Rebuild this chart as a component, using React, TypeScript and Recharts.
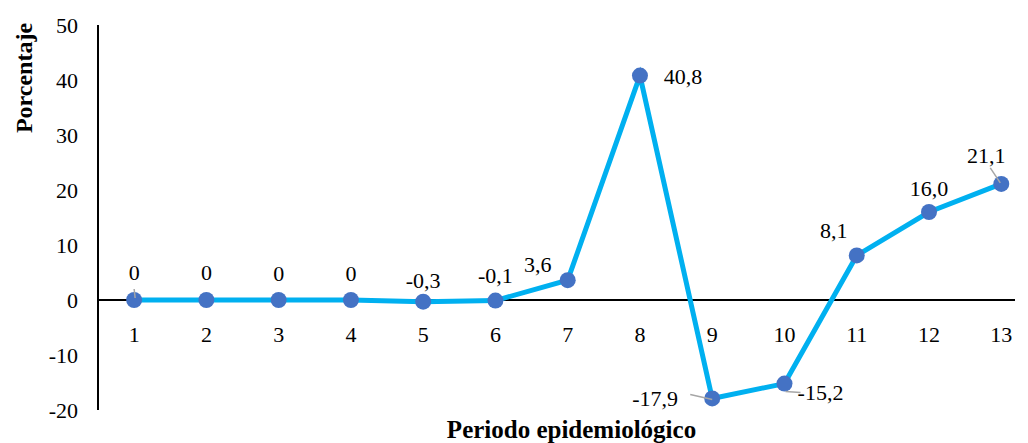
import React from 'react';
import { LineChart, Line, XAxis, YAxis, ReferenceLine, LabelList } from 'recharts';

const periods = [1, 2, 3, 4, 5, 6, 7, 8, 9, 10, 11, 12, 13];
const percentages = [0, 0, 0, 0, -0.3, -0.1, 3.6, 40.8, -17.9, -15.2, 8.1, 16.0, 21.1];
const yTicks = [-20, -10, 0, 10, 20, 30, 40, 50];

const data = periods.map((p, i) => ({ period: p, value: percentages[i] }));

const FONT = '"Liberation Serif", "Times New Roman", serif';

// label offsets from the point: dx, dy and an optional leader line
const labelPlace: Record<number, { dx: number; dy: number; leader?: [number, number, number, number] }> = {
  0: { dx: 0, dy: -28, leader: [0, -11, 1, -2] },
  1: { dx: 0, dy: -28 },
  2: { dx: 0, dy: -27 },
  3: { dx: 0, dy: -27 },
  4: { dx: 0, dy: -21 },
  5: { dx: 0, dy: -25 },
  6: { dx: -30, dy: -16 },
  7: { dx: 43, dy: 1 },
  8: { dx: -57, dy: 0, leader: [-22, -4, 0, 1] },
  9: { dx: 36, dy: 9, leader: [1, 8, 16, 9] },
  10: { dx: -23, dy: -25 },
  11: { dx: 0, dy: -24 },
  12: { dx: -15, dy: -28, leader: [-11, -16, -1, -1] },
};

const fmt = (v: number) => (v === 0 ? '0' : v.toFixed(1).replace('.', ','));

const PointLabel = (props: any) => {
  const { x, y, value, index } = props;
  const p = labelPlace[index] || { dx: 0, dy: -25 };
  return (
    <g>
      {p.leader && (
        <line
          x1={x + p.leader[0]}
          y1={y + p.leader[1]}
          x2={x + p.leader[2]}
          y2={y + p.leader[3]}
          stroke="#a6a6a6"
          strokeWidth={1.5}
        />
      )}
      <text
        x={x + p.dx}
        y={y + p.dy}
        textAnchor="middle"
        dominantBaseline="central"
        fontFamily={FONT}
        fontSize={22}
        fill="#000"
      >
        {fmt(value)}
      </text>
    </g>
  );
};

export default function App() {
  return (
    <div style={{ position: 'absolute', left: 0, top: 0, background: '#fff' }}>
      <LineChart width={1028} height={443} data={data} margin={{ top: 25, right: 13, bottom: 0, left: 0 }}>
        <XAxis
          dataKey="period"
          type="number"
          domain={[0.5, 13.19]}
          ticks={periods}
          axisLine={false}
          tickLine={false}
          height={33}
          interval={0}
          tick={{ fill: '#000', fontSize: 22, fontFamily: FONT, dy: -92 }}
          label={{
            content: (p: any) => (
              <text
                x={p.viewBox.x + p.viewBox.width / 2 + 15}
                y={p.viewBox.y + 19}
                textAnchor="middle"
                dominantBaseline="central"
                fontFamily={FONT}
                fontSize={25}
                fontWeight="bold"
                fill="#000"
              >
                Periodo epidemiológico
              </text>
            ),
          }}
        />
        <YAxis
          type="number"
          domain={[-20, 50]}
          ticks={yTicks}
          width={98}
          axisLine={{ stroke: '#000', strokeWidth: 2 }}
          tickLine={false}
          tickMargin={14}
          tick={{ fill: '#000', fontSize: 22, fontFamily: FONT }}
          label={{
            content: (p: any) => (
              <text
                transform={`translate(${p.viewBox.x + 24}, ${p.viewBox.y + 53}) rotate(-90)`}
                textAnchor="middle"
                dominantBaseline="central"
                fontFamily={FONT}
                fontSize={24}
                fontWeight="bold"
                fill="#000"
              >
                Porcentaje
              </text>
            ),
          }}
        />
        <ReferenceLine y={0} stroke="#000" strokeWidth={2} />
        <Line
          type="linear"
          dataKey="value"
          stroke="#00B0F0"
          strokeWidth={5}
          dot={{ r: 8, fill: '#4472C4', stroke: 'none' }}
          isAnimationActive={false}
        >
          <LabelList dataKey="value" content={PointLabel} />
        </Line>
      </LineChart>
    </div>
  );
}
